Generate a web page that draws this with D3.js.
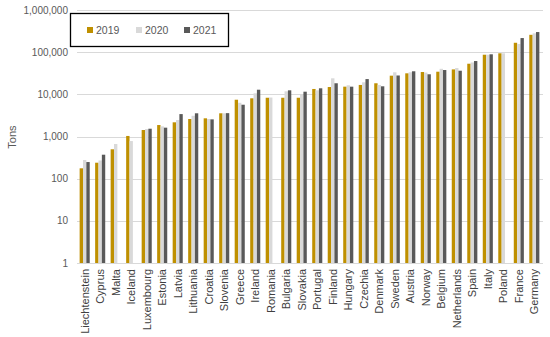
<!DOCTYPE html>
<html>
<head>
<meta charset="utf-8">
<script src="https://cdn.jsdelivr.net/npm/d3@7"></script>
<style>
  html, body { margin: 0; padding: 0; background: #fff; }
  text { font-family: "Liberation Sans", Arial, sans-serif; }
</style>
</head>
<body>
<svg id="chart"></svg>
<script>
// ===== Tons per country, 2019-2021, log scale =====

var countries = ["Liechtenstein", "Cyprus", "Malta", "Iceland", "Luxembourg", "Estonia", "Latvia",
  "Lithuania", "Croatia", "Slovenia", "Greece", "Ireland", "Romania", "Bulgaria", "Slovakia",
  "Portugal", "Finland", "Hungary", "Czechia", "Denmark", "Sweden", "Austria", "Norway",
  "Belgium", "Netherlands", "Spain", "Italy", "Poland", "France", "Germany"];

var years = ["2019", "2020", "2021"];

// null = no bar for that year
var tons2019 = [176, 239, 497, 1030, 1425, 1870, 2170, 2600, 2700, 3550, 7450, 8050, 8300, 8300, 8300,
  13400, 14900, 15200, 16700, 18300, 27700, 31500, 33800, 34400, 39000, 53200, 87000, 94000, 167000, 258000];
var tons2020 = [277, 270, 664, 780, 1500, 1740, 2460, 3100, 2600, 3550, 6300, 10570, 8400, 11800, 9800,
  12450, 24000, 16400, 19300, 16700, 33300, 33300, 32800, 40300, 42000, 57000, 87000, 94000, 156000, 280000];
var tons2021 = [248, 370, null, null, 1530, 1620, 3400, 3550, 2550, 3580, 5670, 12870, null, 12450, 11550,
  13900, 18300, 15200, 23000, 15500, 28000, 35200, 29900, 37700, 36300, 61600, 89000, null, 216000, 300000];

var yTicks = [1, 10, 100, 1000, 10000, 100000, 1000000];

var COLOURS = { "2019": "#BF9000", "2020": "#D9D9D9", "2021": "#595959" };

var width = 550, height = 337;
var margin = { left: 77, right: 8, top: 10, bottom: 74 };

var svg = d3.select("#chart").attr("width", width).attr("height", height);

var x = d3.scaleBand().domain(countries)
  .range([margin.left, 542]).paddingInner(0.35).paddingOuter(0.17);
var xSub = d3.scaleBand().domain(years).range([0, x.bandwidth()]);
var y = d3.scaleLog().domain([1, 1000000]).range([height - margin.bottom, margin.top]);

// Gridlines
svg.append("g").selectAll("line")
  .data(yTicks)
  .join("line")
  .attr("x1", margin.left).attr("x2", 543)
  .attr("y1", function(d) { return Math.round(y(d)) + 0.5; })
  .attr("y2", function(d) { return Math.round(y(d)) + 0.5; })
  .attr("stroke", "#D9D9D9").attr("stroke-width", 1);

// Y tick labels
svg.append("g").selectAll("text")
  .data(yTicks)
  .join("text")
  .attr("x", 68)
  .attr("y", function(d) { return y(d); })
  .attr("dy", "0.35em")
  .attr("text-anchor", "end")
  .attr("font-size", 10)
  .attr("fill", "#595959")
  .text(d3.format(","));

// Y title
svg.append("text")
  .attr("transform", "translate(16,137) rotate(-90)")
  .attr("text-anchor", "middle")
  .attr("font-size", 11)
  .attr("fill", "#595959")
  .text("Tons");

// Bars
var rows = countries.map(function(c, i) {
  return { country: c, values: { "2019": tons2019[i], "2020": tons2020[i], "2021": tons2021[i] } };
});

var groups = svg.append("g").selectAll("g")
  .data(rows)
  .join("g")
  .attr("transform", function(d) { return "translate(" + x(d.country) + ",0)"; });

groups.selectAll("rect")
  .data(function(d) {
    return years.filter(function(yr) { return d.values[yr] != null; })
      .map(function(yr) { return { year: yr, value: d.values[yr] }; });
  })
  .join("rect")
  .attr("x", function(d) { return xSub(d.year); })
  .attr("width", xSub.bandwidth())
  .attr("y", function(d) { return y(d.value); })
  .attr("height", function(d) { return y(1) - y(d.value); })
  .attr("fill", function(d) { return COLOURS[d.year]; });

// X labels
svg.append("g").selectAll("text")
  .data(countries)
  .join("text")
  .attr("transform", function(d) {
    return "translate(" + (x(d) + x.bandwidth() / 2) + "," + (y(1) + 6) + ") rotate(-90)";
  })
  .attr("dy", "0.35em")
  .attr("text-anchor", "end")
  .attr("font-size", 11)
  .attr("fill", "#404040")
  .text(function(d) { return d; });

// Legend
var leg = svg.append("g");
leg.append("rect")
  .attr("x", 70.5).attr("y", 13.5).attr("width", 158).attr("height", 33)
  .attr("fill", "#fff").attr("stroke", "#000").attr("stroke-width", 1.3);

var legX = [87, 136, 184];
years.forEach(function(yr, i) {
  leg.append("rect")
    .attr("x", legX[i]).attr("y", 27).attr("width", 6).attr("height", 6)
    .attr("fill", COLOURS[yr]);
  leg.append("text")
    .attr("x", legX[i] + 9).attr("y", 30)
    .attr("dy", "0.35em")
    .attr("font-size", 10.5)
    .attr("fill", "#595959")
    .text(yr);
});
</script>
</body>
</html>
